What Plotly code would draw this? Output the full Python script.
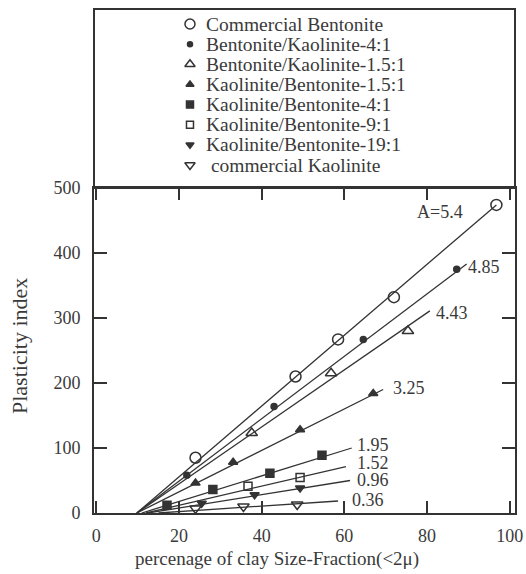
import plotly.graph_objects as go

# ---------------- data ----------------
series_names = [
    "Commercial Bentonite",
    "Bentonite/Kaolinite-4:1",
    "Bentonite/Kaolinite-1.5:1",
    "Kaolinite/Bentonite-1.5:1",
    "Kaolinite/Bentonite-4:1",
    "Kaolinite/Bentonite-9:1",
    "Kaolinite/Bentonite-19:1",
    " commercial Kaolinite",
]

x_comm_bent = [24.0, 48.2, 58.5, 72.0, 96.8]
y_comm_bent = [85, 210, 267, 332, 474]

x_bk_4_1 = [21.9, 43.0, 64.6, 87.2]
y_bk_4_1 = [58, 164, 267, 375]

x_bk_15_1 = [37.6, 56.8, 75.4]
y_bk_15_1 = [123, 215, 280]

x_kb_15_1 = [24.0, 33.1, 49.3, 67.0]
y_kb_15_1 = [46, 78, 128, 184]

x_kb_4_1 = [17.1, 28.2, 42.0, 54.6]
y_kb_4_1 = [12, 36, 61, 89]

x_kb_9_1 = [36.7, 49.3]
y_kb_9_1 = [41, 54.5]

x_kb_19_1 = [25.5, 38.3, 49.3]
y_kb_19_1 = [15, 28, 38.5]

x_comm_kao = [24.0, 35.6, 48.6]
y_comm_kao = [7, 10, 13]

series_x = [x_comm_bent, x_bk_4_1, x_bk_15_1, x_kb_15_1, x_kb_4_1, x_kb_9_1, x_kb_19_1, x_comm_kao]
series_y = [y_comm_bent, y_bk_4_1, y_bk_15_1, y_kb_15_1, y_kb_4_1, y_kb_9_1, y_kb_19_1, y_comm_kao]

# fitted lines: start on the x axis, end point (x, y)
fit_x_start = [9.8, 9.8, 9.8, 9.8, 11.0, 12.0, 12.5, 15.0]
fit_x_end = [96.8, 89.6, 80.7, 69.4, 61.8, 60.4, 61.4, 58.5]
fit_y_end = [474, 383, 311, 190, 100, 71.5, 50, 18.5]

slope_labels = ["A=5.4", "4.85", "4.43", "3.25", "1.95", "1.52", "0.96", "0.36"]
slope_label_x = [83.1, 93.8, 86.0, 75.6, 66.9, 67.0, 67.0, 65.8]
slope_label_y = [463, 378, 307, 193, 105, 76.7, 51, 20]

x_ticks = [0, 20, 40, 60, 80, 100]
y_ticks = [0, 100, 200, 300, 400, 500]

x_title = "percenage of clay Size-Fraction(<2\u03bc)"
y_title = "Plasticity index"

# ---------------- styles ----------------
INK = "#333333"
TXT = "#3a3a3a"
FONT = "Liberation Serif"
symbols = ["circle-open", "circle", "triangle-up-open", "triangle-up",
           "square", "square-open", "triangle-down", "triangle-down-open"]
sizes = [11, 6, 10, 8, 8, 8, 8, 10]
legend_sizes = [10, 5, 9, 7, 7, 7, 7, 9]

fig = go.Figure()

# fit lines
for i in range(len(series_names)):
    fig.add_trace(go.Scatter(
        x=[fit_x_start[i], fit_x_end[i]], y=[0, fit_y_end[i]],
        mode="lines", line=dict(color=INK, width=1.3),
        showlegend=False, hoverinfo="skip"))

# data points
for i in range(len(series_names)):
    fig.add_trace(go.Scatter(
        x=series_x[i], y=series_y[i], mode="markers",
        name=series_names[i], showlegend=False,
        marker=dict(symbol=symbols[i], size=sizes[i], color=INK,
                    line=dict(color=INK, width=1.5))))

# manual legend in the upper panel
n = len(series_names)
top_pad = 0.084
step = 0.1125
leg_y = [1 - top_pad - k * step for k in range(n)]
for i in range(n):
    fig.add_trace(go.Scatter(
        x=[0.228], y=[leg_y[i]], xaxis="x2", yaxis="y2",
        mode="markers", showlegend=False, hoverinfo="skip",
        marker=dict(symbol=symbols[i], size=legend_sizes[i], color=INK,
                    line=dict(color=INK, width=1.5))))
    fig.add_annotation(x=0.262, y=leg_y[i], xref="x2", yref="y2",
                       text=series_names[i], showarrow=False,
                       xanchor="left", yanchor="middle",
                       font=dict(family=FONT, size=19.5, color=TXT))

# slope labels
for i in range(n):
    fig.add_annotation(x=slope_label_x[i], y=slope_label_y[i],
                       text=slope_labels[i], showarrow=False,
                       xanchor="center", yanchor="middle",
                       font=dict(family=FONT, size=18, color=TXT))

split = 325 / 504

fig.update_layout(
    width=526, height=574,
    margin=dict(l=94, r=11, t=9, b=61, autoexpand=False),
    paper_bgcolor="white", plot_bgcolor="white",
    font=dict(family=FONT, color=TXT, size=16),
    xaxis=dict(range=[-0.56, 101.3], tickvals=x_ticks, ticks="inside",
               ticklen=12, tickwidth=1.6, tickcolor=INK, showline=True,
               linewidth=2, linecolor=INK, mirror="ticks", showgrid=False,
               zeroline=False, automargin=False,
               tickfont=dict(family=FONT, size=18, color=TXT),
               ticklabelstandoff=5),
    yaxis=dict(range=[0, 500], tickvals=y_ticks, ticks="inside",
               ticklen=13, tickwidth=1.6, tickcolor=INK, showline=True,
               linewidth=2, linecolor=INK, mirror="ticks", showgrid=False,
               zeroline=False, domain=[0, split], automargin=False,
               tickfont=dict(family=FONT, size=18, color=TXT),
               ticklabelstandoff=8),
    xaxis2=dict(range=[0, 1], domain=[0, 1], anchor="y2", visible=False,
                automargin=False),
    yaxis2=dict(range=[0, 1], domain=[split, 1], anchor="x2", visible=False,
                automargin=False),
)

# legend frame
fig.add_shape(type="rect", xref="paper", yref="paper",
              x0=0, x1=1, y0=split, y1=1,
              line=dict(color=INK, width=2))

# axis titles
fig.add_annotation(text=x_title, xref="paper", yref="paper",
                   x=(277 - 94) / 421, y=(513 - 559) / 504,
                   showarrow=False, xanchor="center", yanchor="middle",
                   font=dict(family=FONT, size=19, color=TXT))
fig.add_annotation(text=y_title, xref="paper", yref="paper",
                   x=(19 - 94) / 421, y=(513 - 346) / 504, textangle=-90,
                   showarrow=False, xanchor="center", yanchor="middle",
                   font=dict(family=FONT, size=22, color=TXT))

fig.write_html("out.html",
               config={"displayModeBar": False},
               post_script="document.body.style.margin='0';"
                           "document.body.style.overflow='hidden';")
